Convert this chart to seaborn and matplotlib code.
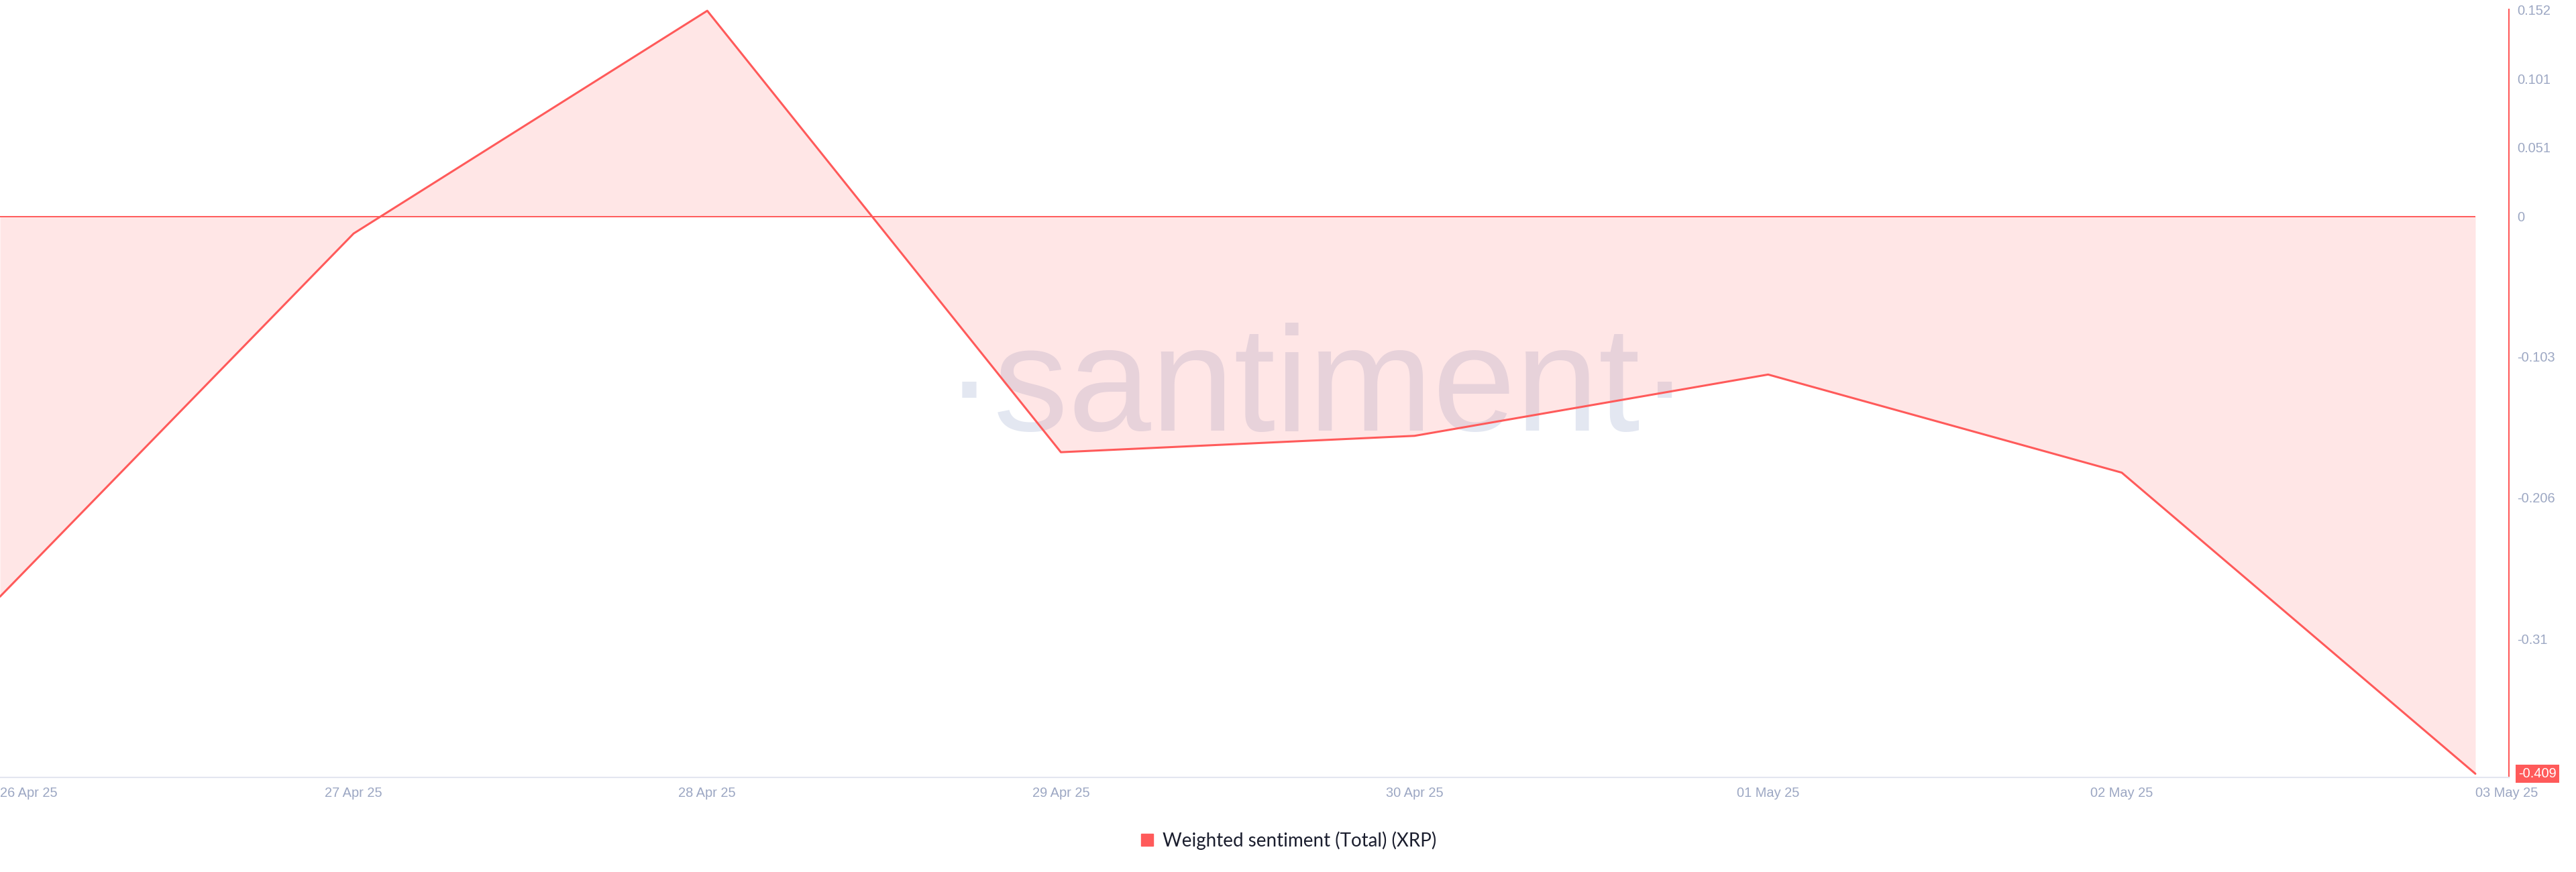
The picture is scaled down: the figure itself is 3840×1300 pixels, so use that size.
import pandas as pd
import matplotlib
matplotlib.use('Agg')
import matplotlib.pyplot as plt
from matplotlib.lines import Line2D
import seaborn as sns

dates = ['26 Apr 25', '27 Apr 25', '28 Apr 25', '29 Apr 25', '30 Apr 25', '01 May 25', '02 May 25', '03 May 25']
sentiment = [-0.279, -0.0125, 0.151, -0.173, -0.161, -0.116, -0.188, -0.409]
ytick_vals = [0.152, 0.101, 0.051, 0, -0.103, -0.206, -0.31]
ytick_labels = ['0.152', '0.101', '0.051', '0', '-0.103', '-0.206', '-0.31']
last_label = '-0.409'
series_name = 'Weighted sentiment (Total) (XRP)'

red = '#ff5a5a'
grey = '#9ca7c3'

sns.set_style('white')
plt.rcParams['font.family'] = ['Liberation Sans', 'DejaVu Sans']

df = pd.DataFrame({'idx': range(len(dates)), 'sentiment': sentiment})

fig = plt.figure(figsize=(38.4, 13), dpi=100)
ax = fig.add_axes([0, 1 - 1159 / 1300, 3740 / 3840, (1159 - 14) / 1300])

# watermark
ax.text(0.525, 0.4515, '\u00b7santiment\u00b7', transform=ax.transAxes, ha='center', va='baseline',
        fontsize=160, color='#e3e7f1', zorder=0)

ax.fill_between(df['idx'], df['sentiment'], 0, color=red, alpha=0.15, lw=0, zorder=1)
ax.hlines(0, 0, len(dates) - 1, color=red, lw=1.4, zorder=2)
sns.lineplot(data=df, x='idx', y='sentiment', ax=ax, color=red, lw=2.2, zorder=3)

ax.set_xlim(0, (len(dates) - 1) * 3740 / 3690)
ax.set_ylim(-0.4117, 0.1515)

ax.set_xticks(df['idx'])
ax.set_xticklabels(dates)
ax.xaxis.set_ticks_position('bottom')
ax.tick_params(axis='x', length=0, pad=10, labelsize=14.4, labelcolor=grey)
ax.get_xticklabels()[0].set_ha('left')
ax.get_xticklabels()[-1].set_ha('left')

ax.yaxis.tick_right()
ax.set_yticks(ytick_vals)
ax.set_yticklabels(ytick_labels)
ax.tick_params(axis='y', length=0, pad=9, labelsize=14.4, labelcolor=grey)

ax.set_xlabel('')
ax.set_ylabel('')
for s in ['top', 'left']:
    ax.spines[s].set_visible(False)
ax.spines['right'].set_color(red)
ax.spines['right'].set_linewidth(1.5)
ax.spines['bottom'].set_color('#e3e6f0')
ax.spines['bottom'].set_linewidth(1.5)

# last value badge
ax.annotate(last_label, xy=(1, sentiment[-1]), xycoords=('axes fraction', 'data'),
            xytext=(10, 0), textcoords='offset points', ha='left', va='center',
            fontsize=14.4, color='white', zorder=10, annotation_clip=False,
            bbox=dict(boxstyle='square,pad=0.2', fc=red, ec='none'))

handle = Line2D([], [], marker='s', color=red, linestyle='none', markersize=13)
fig.legend([handle], [series_name], loc='center', bbox_to_anchor=(0.5, 0.036), frameon=False,
           handlelength=0.8, handletextpad=0.4, prop={'family': ['Lato', 'DejaVu Sans'], 'size': 20},
           labelcolor='#1b1e2e')

fig.savefig('out.png', dpi=100)
